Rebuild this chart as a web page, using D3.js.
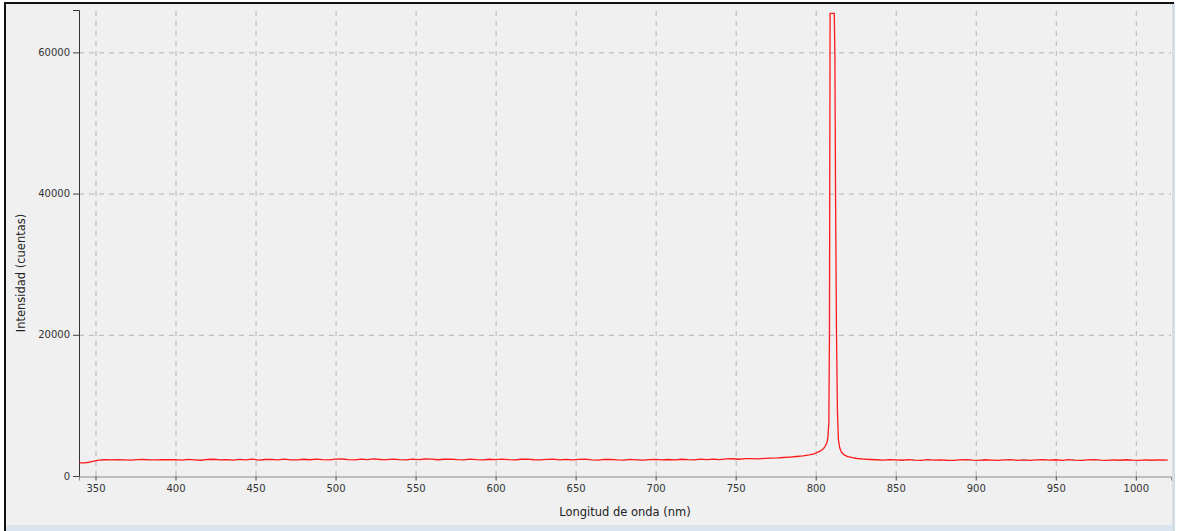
<!DOCTYPE html>
<html>
  <head>
    <meta charset="UTF-8">
    <script src="https://d3js.org/d3.v7.min.js"></script>
    <style>
      body { margin:0; background:#ffffff; }
      #svg { display:block; }
      .gridlines line { stroke:#b4b4b4; stroke-dasharray:5,5; }
      .gridlines .domain { stroke:none; }
      .axis text { font-family:"DejaVu Sans", sans-serif; font-size:10px; fill:#333; }
    </style>
    <title>Espectro</title>
  </head>
  <body>
    <svg id="svg" width="1179" height="531"></svg>
    <script>

// ************ data ************

      // start of the spectrum (slow rise)
      const wlStart  = [340, 343, 346, 349, 352, 356, 360, 364, 368, 372, 376, 380, 384, 388, 392, 396];
      const intStart = [1850, 1870, 1950, 2120, 2260, 2300, 2280, 2320, 2290, 2260, 2310, 2340, 2290, 2270, 2320, 2300];

      // flat baseline up to the peak
      const wlBase = [
        400, 404, 408, 412, 416, 420, 424, 428, 432, 436,
        440, 444, 448, 452, 456, 460, 464, 468, 472, 476,
        480, 484, 488, 492, 496, 500, 504, 508, 512, 516,
        520, 524, 528, 532, 536, 540, 544, 548, 552, 556,
        560, 564, 568, 572, 576, 580, 584, 588, 592, 596,
        600, 604, 608, 612, 616, 620, 624, 628, 632, 636,
        640, 644, 648, 652, 656, 660, 664, 668, 672, 676,
        680, 684, 688, 692, 696, 700, 704, 708, 712, 716,
        720, 724, 728, 732, 736, 740, 744, 748, 752, 756,
        760, 764, 768, 772, 776, 780, 784, 788, 792, 796];
      const intBase = [
        2310, 2250, 2350, 2290, 2230, 2340, 2370, 2270, 2330, 2250,
        2350, 2280, 2380, 2260, 2340, 2360, 2280, 2390, 2290, 2270,
        2370, 2300, 2400, 2310, 2280, 2380, 2410, 2320, 2290, 2390,
        2320, 2420, 2340, 2310, 2400, 2330, 2290, 2390, 2320, 2410,
        2380, 2300, 2370, 2400, 2310, 2280, 2380, 2320, 2290, 2370,
        2310, 2390, 2320, 2280, 2370, 2400, 2300, 2270, 2360, 2380,
        2290, 2360, 2270, 2350, 2380, 2280, 2250, 2340, 2360, 2280,
        2260, 2350, 2290, 2250, 2320, 2360, 2270, 2340, 2280, 2370,
        2310, 2290, 2380, 2320, 2400, 2330, 2420, 2440, 2370, 2460,
        2460, 2430, 2490, 2530, 2560, 2620, 2680, 2760, 2850, 2980];

      // laser peak (saturated at 65535)
      const wlPeak = [799, 801, 803, 805, 806, 807, 807.6, 808.2, 808.6, 809,
                      811.6, 812, 812.4, 813, 813.6, 814.2, 815, 816, 818, 820,
                      823, 826, 830, 834];
      const intPeak = [3150, 3350, 3550, 3900, 4250, 4700, 5400, 7500, 20000, 65535,
                       65535, 59500, 40000, 20000, 9000, 5200, 4000, 3400, 2950, 2750,
                       2600, 2480, 2400, 2340];

      // tail after the peak
      const wlTail = [
        838, 842, 846, 850, 854, 858, 862, 866, 870, 874,
        878, 882, 886, 890, 894, 898, 902, 906, 910, 914,
        918, 922, 926, 930, 934, 938, 942, 946, 950, 954,
        958, 962, 966, 970, 974, 978, 982, 986, 990, 994,
        998, 1002, 1006, 1010, 1014, 1020];
      const intTail = [
        2300, 2250, 2330, 2270, 2230, 2320, 2260, 2220, 2310, 2250,
        2290, 2230, 2210, 2280, 2320, 2250, 2220, 2300, 2240, 2200,
        2270, 2310, 2220, 2290, 2210, 2270, 2330, 2240, 2300, 2220,
        2330, 2250, 2210, 2290, 2310, 2240, 2200, 2270, 2230, 2300,
        2240, 2210, 2290, 2230, 2270, 2250];

      const xTicks = [350, 400, 450, 500, 550, 600, 650, 700, 750, 800, 850, 900, 950, 1000];
      const yTicks = [0, 20000, 40000, 60000];

      const wavelength = wlStart.concat(wlBase, wlPeak, wlTail);
      const intensity  = intStart.concat(intBase, intPeak, intTail);
      const data = wavelength.map((w, i) => ({wl: w, val: intensity[i]}));

// ************ frame ************

      const svg = d3.select("svg#svg");

      svg.append("rect").attr("x", 5).attr("y", 3).attr("width", 1169).attr("height", 524).attr("fill", "#f0f0f0");
      svg.append("rect").attr("x", 5).attr("y", 525).attr("width", 1169).attr("height", 6).attr("fill", "#dbe4ee");
      svg.append("rect").attr("x", 1172).attr("y", 3).attr("width", 3).attr("height", 528).attr("fill", "#d3dde8");
      svg.append("line").attr("x1", 4).attr("x2", 1174).attr("y1", 3).attr("y2", 3).attr("stroke", "#111").attr("stroke-width", 2);
      svg.append("line").attr("x1", 5).attr("x2", 5).attr("y1", 2).attr("y2", 531).attr("stroke", "#111").attr("stroke-width", 2);

// ************ scales, axes, grid ************

      const margin = {"top":10, "left":79, "right":1171, "bottom":476};
      const xScale = d3.scaleLinear().domain([339.7, 1022]).range([margin.left, margin.right]);
      const yScale = d3.scaleLinear().domain([0, 66000]).range([margin.bottom, margin.top]);

      svg.append("g")
        .attr("class", "gridlines")
        .attr("transform", "translate(0," + margin.bottom + ")")
        .call(d3.axisBottom(xScale).tickValues(xTicks).tickFormat("").tickSize(-(margin.bottom - margin.top)));

      svg.append("g")
        .attr("class", "gridlines")
        .attr("transform", "translate(" + margin.left + ",0)")
        .call(d3.axisLeft(yScale).tickValues(yTicks.slice(1)).tickFormat("").tickSize(-(margin.right - margin.left)));

      let bottomAxis = svg.append("g")
        .attr("class", "axis")
        .attr("transform", "translate(0," + (margin.bottom + 0.5) + ")")
        .call(d3.axisBottom(xScale).tickValues(xTicks).tickFormat(d3.format("d"))
          .tickSizeOuter(0).tickSize(4).tickPadding(4));
      bottomAxis.select(".domain").attr("stroke", "#8a8a8a");
      bottomAxis.selectAll(".tick line").attr("stroke", "#444");

      let leftAxis = svg.append("g")
        .attr("class", "axis")
        .attr("transform", "translate(" + margin.left + ",0)")
        .call(d3.axisLeft(yScale).tickValues(yTicks).tickFormat(d3.format("d"))
          .tickSizeOuter(0).tickSize(6).tickPadding(3));
      leftAxis.select(".domain").attr("stroke", "#333");
      leftAxis.selectAll(".tick line").attr("stroke", "#444");

// ************ spectrum ************

      const lineGen = d3.line()
        .x(d => xScale(d.wl))
        .y(d => yScale(d.val));

      svg.append("path").datum(data)
        .attr("d", lineGen)
        .attr("fill", "none")
        .attr("stroke", "#ff1a1a")
        .attr("stroke-width", 1.3)
        .attr("stroke-linejoin", "round");

// ************ labels ************

      svg.append("text")
        .attr("x", 625)
        .attr("y", 516)
        .attr("text-anchor", "middle")
        .attr("font-family", "DejaVu Sans, sans-serif")
        .style("font-size", "11.5px")
        .attr("fill", "#222")
        .text("Longitud de onda (nm)");

      svg.append("text")
        .attr("transform", "translate(25,273) rotate(-90)")
        .attr("text-anchor", "middle")
        .attr("font-family", "DejaVu Sans, sans-serif")
        .style("font-size", "11.5px")
        .attr("fill", "#222")
        .text("Intensidad (cuentas)");

    </script>
  </body>
</html>
